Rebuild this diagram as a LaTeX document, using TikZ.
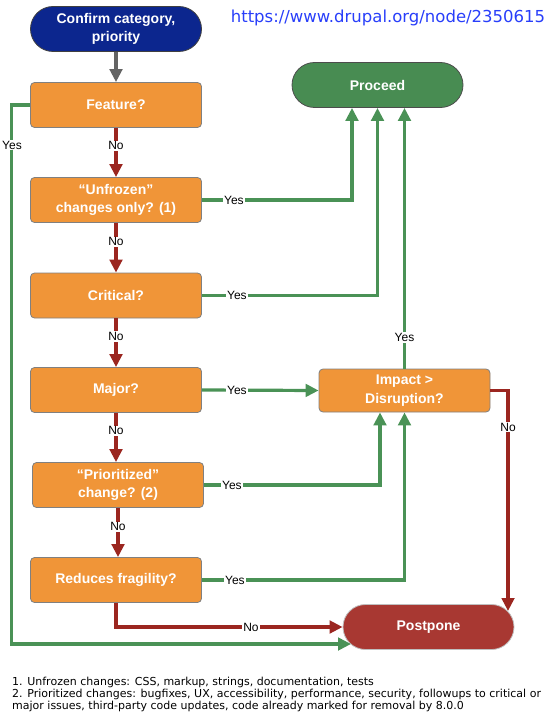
\documentclass[tikz,border=0pt]{standalone}
\usepackage{fontspec}
\setmainfont{Liberation Sans}
\newfontfamily\dejavu{DejaVu Sans}
\usetikzlibrary{arrows.meta,calc}
\definecolor{startblue}{RGB}{12,38,142}
\definecolor{boxorange}{RGB}{240,149,56}
\definecolor{boxborder}{RGB}{128,128,128}
\definecolor{proceedgreen}{RGB}{72,140,82}
\definecolor{postponered}{RGB}{168,56,50}
\definecolor{yesgreen}{RGB}{74,146,86}
\definecolor{nored}{RGB}{155,38,32}
\definecolor{arrowgray}{RGB}{100,100,100}
\definecolor{urlblue}{RGB}{40,62,250}
\tikzset{
  qbox/.style={draw=boxborder, line width=0.8pt, fill=boxorange, rounded corners=4pt,
    minimum width=171pt, minimum height=45pt, inner sep=0pt, align=center,
    text=white, font=\fontsize{14}{18.5}\selectfont\bfseries},
  pill/.style={line width=0.8pt, rounded corners=22.5pt,
    minimum width=171pt, minimum height=45pt, inner sep=0pt, align=center,
    text=white, font=\fontsize{14}{18.5}\selectfont\bfseries},
  yesline/.style={draw=yesgreen, line width=3.2pt, -{Triangle[length=13pt,width=12.5pt]}},
  noline/.style={draw=nored, line width=3.2pt, -{Triangle[length=13pt,width=12.5pt]}},
  lbl/.style={fill=white, inner sep=1.2pt, text=black, font=\fontsize{12}{14}\selectfont},
  note/.style={anchor=west, inner sep=0pt, text=black, font=\dejavu\fontsize{11}{12.5}\selectfont, align=left}
}
\begin{document}
\begin{tikzpicture}[x=1pt,y=-1pt]
\useasboundingbox (0,0) rectangle (554,722);
% nodes
\node[pill, draw=black!75, fill=startblue] (start) at (116,29) {Confirm category,\\priority};
\node[text=urlblue, font=\dejavu\fontsize{16.5}{18}\selectfont, inner sep=0pt] (url) at (388,18) {https://www.drupal.org/node/2350615};
\node[qbox] (feature) at (116,105) {Feature?};
\node[qbox] (unfrozen) at (116,200) {“Unfrozen”\\changes only? (1)};
\node[qbox] (critical) at (116,295.5) {Critical?};
\node[qbox] (major) at (116,390) {Major?};
\node[qbox] (prio) at (118,485) {“Prioritized”\\change? (2)};
\node[qbox] (reduces) at (116,580) {Reduces fragility?};
\node[pill, draw=black!70, fill=proceedgreen] (proceed) at (377.5,85) {Proceed};
\node[qbox, minimum height=43pt] (impact) at (404.5,390.5) {Impact >\\Disruption?};
\node[pill, draw=black!25, fill=postponered] (postpone) at (428.5,627) {Postpone};
% free ends on the postpone pill
\coordinate (ppgreen) at (351,644);
\coordinate (pptop) at (508,611);
% main flow
\draw[draw=arrowgray, line width=3.2pt, -{Triangle[length=13pt,width=12.5pt]}] (start.south) -- (feature.north);
\draw[noline] (feature.south) -- (unfrozen.north);
\draw[noline] (unfrozen.south) -- (critical.north);
\draw[noline] (critical.south) -- (major.north);
\draw[noline] (major.south) -- (major.south |- prio.north);
\draw[noline] (prio.south) -- (prio.south |- reduces.north);
\node[lbl] at ([yshift=-18]feature.south) {No};
\node[lbl] at ([yshift=-19]unfrozen.south) {No};
\node[lbl] at ([yshift=-18]critical.south) {No};
\node[lbl] at ([yshift=-18]major.south) {No};
\node[lbl] at ([yshift=-19]prio.south) {No};
% yes branches
\draw[yesline] (feature.west) -- ++(-19,0) |- (ppgreen);
\node[lbl] at (12,145) {Yes};
\draw[yesline] (unfrozen.east) -| ([xshift=-25.5]proceed.south);
\node[lbl] at ([xshift=32]unfrozen.east) {Yes};
\draw[yesline] (critical.east) -| (proceed.south);
\node[lbl] at ([xshift=35]critical.east) {Yes};
\draw[yesline] (impact.north) -- (impact.north |- proceed.south);
\node[lbl] at ([yshift=31]impact.north) {Yes};
\draw[yesline] (major.east) -- (impact.west);
\node[lbl] at ([xshift=35]major.east) {Yes};
\draw[yesline] (prio.east) -| ([xshift=-24.5]impact.south);
\node[lbl] at ([xshift=28]prio.east) {Yes};
\draw[yesline] (reduces.east) -| (impact.south);
\node[lbl] at ([xshift=33]reduces.east) {Yes};
% no to postpone
\draw[noline] (impact.east) -| (pptop);
\node[lbl] at (508,427) {No};
\draw[noline] (reduces.south) |- (postpone.west);
\node[lbl] at (251,627.5) {No};
% footnotes
\node[note] (fn1) at (12,682) {1. Unfrozen changes: CSS, markup, strings, documentation, tests};
\node[note, anchor=north west] (fn2) at (12,688.5) {2. Prioritized changes: bugfixes, UX, accessibility, performance, security, followups to critical or\\major issues, third-party code updates, code already marked for removal by 8.0.0};
\end{tikzpicture}
\end{document}
